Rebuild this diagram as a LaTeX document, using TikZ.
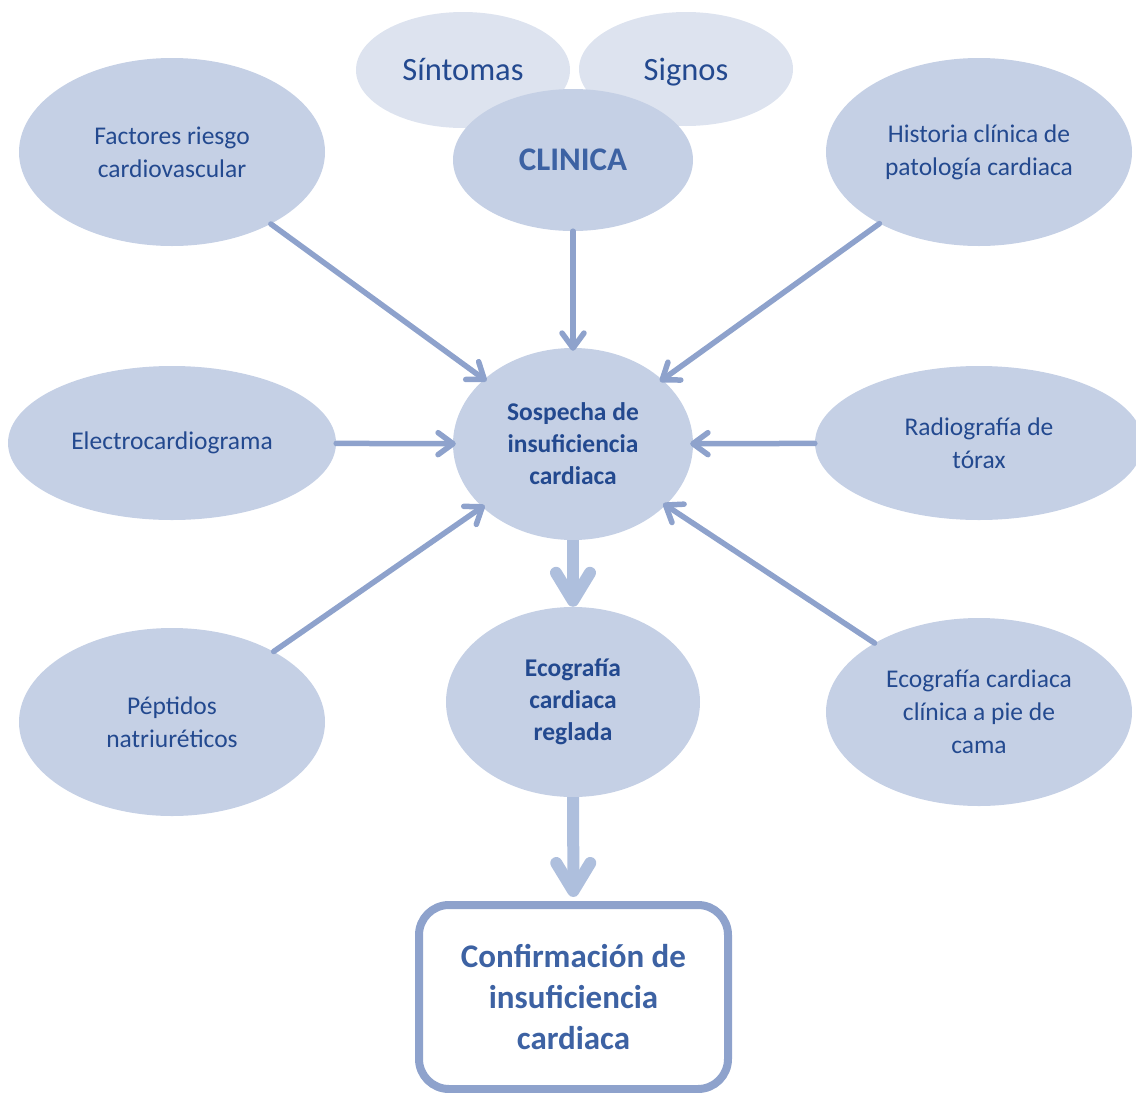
\documentclass[tikz,border=0pt]{standalone}
\usepackage{fontspec}
\setmainfont{Carlito}
\usetikzlibrary{shapes.geometric,arrows.meta}
\definecolor{fillA}{HTML}{C5D0E5}
\definecolor{fillB}{HTML}{DDE3EF}
\definecolor{arrA}{HTML}{8EA2CC}
\definecolor{arrB}{HTML}{AEBFDD}
\definecolor{txtA}{HTML}{23498F}
\definecolor{txtB}{HTML}{3D62A3}
\begin{document}
\begin{tikzpicture}[x=1pt,y=-1pt,
  bub/.style={ellipse, fill=fillA, inner sep=0pt, align=center, text=txtA,
    font=\fontsize{25.5}{33}\selectfont},
  lightbub/.style={bub, fill=fillB, font=\fontsize{32.5}{36}\selectfont},
  boldbub/.style={bub, font=\bfseries\fontsize{25.5}{32}\selectfont},
  thinarrow/.style={draw=arrA, line width=5.5pt, line cap=round,
    -{Straight Barb[length=15pt,width=22pt,line cap=round,line join=round]}, shorten >=-3pt},
  thickarrow/.style={draw=arrB, line width=12pt,
    -{Straight Barb[length=28pt,width=34pt,line cap=round,line join=round]}},
  confbox/.style={draw=arrA, line width=8pt, rounded corners=30pt, fill=white,
    align=center, text=txtB, inner sep=0pt,
    font=\bfseries\fontsize{33}{41}\selectfont}
]
\useasboundingbox (0,0) rectangle (1136,1093);
% top cluster
\node[lightbub, minimum width=214pt, minimum height=116pt] (sin) at (463,70) {Síntomas};
\node[lightbub, minimum width=214pt, minimum height=114pt] (sig) at (686,69) {\raisebox{-3pt}[\height][\depth]{Signos}};
\node[bub, minimum width=240pt, minimum height=142pt, text=txtB,
  font=\bfseries\fontsize{33}{36}\selectfont] (cli) at (573,160) {CLINICA};
% outer ellipses
\node[bub, minimum width=306pt, minimum height=188pt] (fac) at (172,152) {Factores riesgo\\cardiovascular};
\node[bub, minimum width=306pt, minimum height=188pt] (his) at (979,152) {Historia clínica de\\patología cardiaca};
\node[bub, minimum width=328pt, minimum height=154pt] (ecg) at (172,443) {Electrocardiograma};
\node[bub, minimum width=328pt, minimum height=154pt] (rx) at (979,443) {Radiografía de\\tórax};
\node[bub, minimum width=306pt, minimum height=188pt] (pep) at (172,722) {Péptidos\\natriuréticos};
\node[bub, minimum width=306pt, minimum height=188pt] (ecc) at (979,712) {Ecografía cardiaca\\clínica a pie de\\cama};
% central
\node[boldbub, minimum width=240pt, minimum height=192pt] (sos) at (573,444) {Sospecha de\\insuficiencia\\cardiaca};
\node[boldbub, minimum width=254pt, minimum height=190pt] (ecr) at (573,702) {Ecografía\\cardiaca\\reglada};
\node[confbox, minimum width=309pt, minimum height=184pt] (conf) at (573.5,997) {Confirmación de\\insuficiencia\\cardiaca};
% arrows
\draw[thinarrow] (fac) -- (sos);
\draw[thinarrow] (his) -- (sos);
\draw[thinarrow] (cli) -- (sos);
\draw[thinarrow] (ecg) -- (sos);
\draw[thinarrow] (rx) -- (sos);
\draw[thinarrow] (pep) -- (sos);
\draw[thinarrow] (ecc) -- (sos);
\draw[thickarrow] (sos) -- (ecr);
\draw[thickarrow, shorten >=4pt] (ecr) -- (conf);
\end{tikzpicture}
\end{document}
